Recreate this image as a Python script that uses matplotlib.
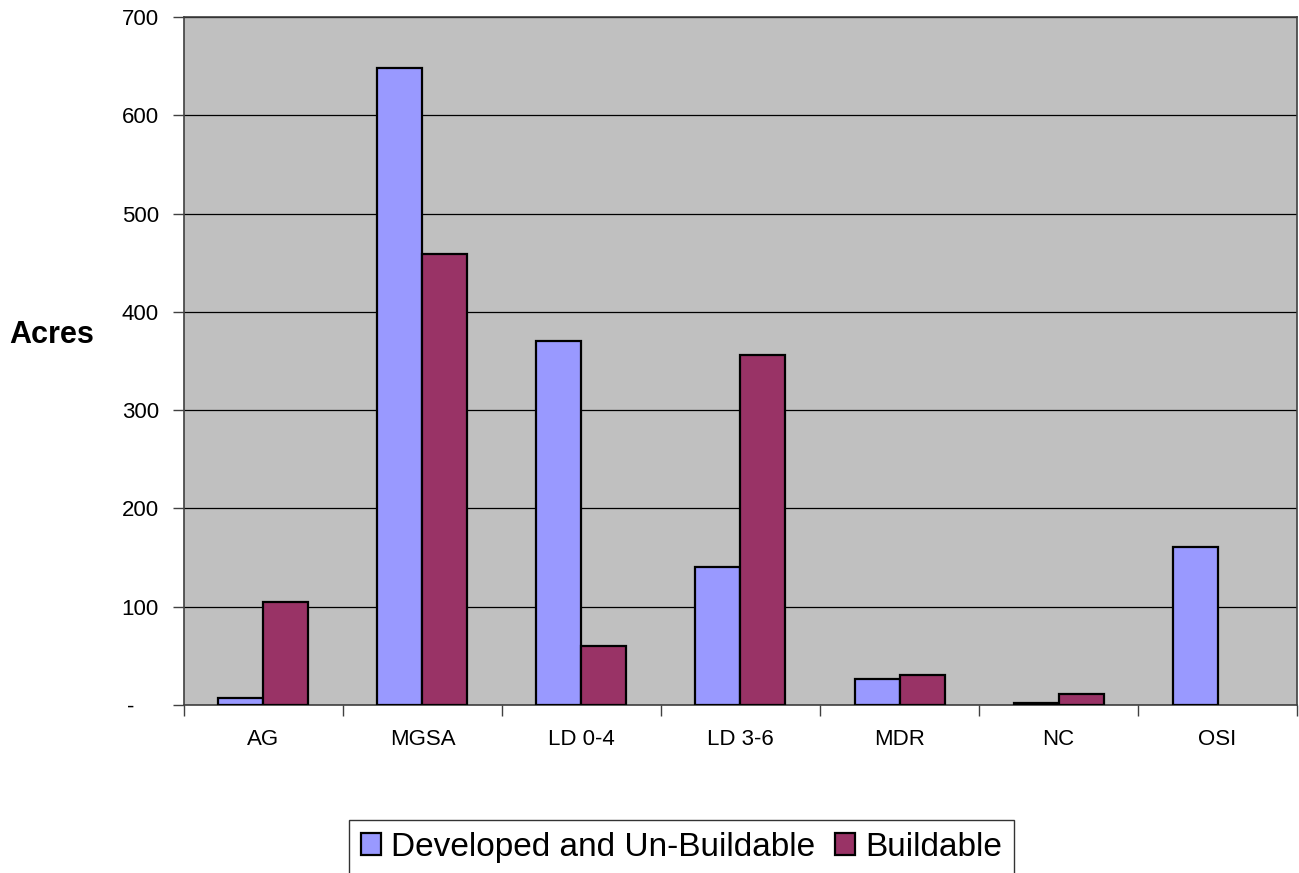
import numpy as np
import matplotlib
matplotlib.use('Agg')
import matplotlib.pyplot as plt
from matplotlib.ticker import FixedLocator, NullFormatter

plt.rcParams['font.family'] = ['Liberation Sans', 'DejaVu Sans']

categories = ["AG", "MGSA", "LD 0-4", "LD 3-6", "MDR", "NC", "OSI"]
developed = [7, 648, 370, 140, 26, 2, 161]
buildable = [105, 459, 60, 356, 31, 11, 0]
yticks = [0, 100, 200, 300, 400, 500, 600, 700]
ytick_labels = ["-    ", "100", "200", "300", "400", "500", "600", "700"]

fig = plt.figure(figsize=(12.99, 8.73), dpi=100)
ax = fig.add_axes([0.1416, 0.1924, 0.8569, 0.7881])
ax.set_facecolor('#C0C0C0')

x = np.arange(len(categories))
w = 0.283
b1 = ax.bar(x - w / 2, developed, w, color='#9999FF', edgecolor='black', linewidth=1.6,
            label='Developed and Un-Buildable', zorder=3)
b2 = ax.bar(x + w / 2, buildable, w, color='#993366', edgecolor='black', linewidth=1.6,
            label='Buildable', zorder=3)
# excel draws nothing for empty bars
for p in list(b1) + list(b2):
    if p.get_height() == 0:
        p.set_visible(False)

ax.set_xlim(-0.5, len(categories) - 0.5)
ax.set_ylim(0, 700)
ax.set_yticks(yticks)
ax.set_yticklabels(ytick_labels, fontsize=16)
ax.yaxis.grid(True, color='black', linewidth=0.9, zorder=1)
ax.set_axisbelow(True)

# category labels centred, tick marks on the boundaries
ax.set_xticks(x)
ax.set_xticklabels(categories, fontsize=16)
ax.tick_params(axis='x', which='major', length=0, pad=17)
ax.xaxis.set_minor_locator(FixedLocator(np.arange(len(categories) + 1) - 0.5))
ax.xaxis.set_minor_formatter(NullFormatter())
ax.tick_params(axis='x', which='minor', length=8, width=1, color='#404040', direction='out')
ax.tick_params(axis='y', length=8, width=1, color='#404040', direction='out', pad=10)

for s in ax.spines.values():
    s.set_color('#404040')
    s.set_linewidth(1.2)

ax.set_ylabel('Acres', fontsize=22, fontweight='bold', rotation=0, va='center', ha='center')
ax.yaxis.set_label_coords(-0.1186, 0.538)

leg = fig.legend(loc='upper center', bbox_to_anchor=(0.5246, 0.0607), ncol=2, fontsize=24,
                 frameon=True, fancybox=False, edgecolor='black', handlelength=0.6,
                 handleheight=0.6, handletextpad=0.3, columnspacing=0.6, borderpad=0.35,
                 borderaxespad=0)
leg.get_frame().set_linewidth(1.0)

fig.savefig('out.png', dpi=100)
